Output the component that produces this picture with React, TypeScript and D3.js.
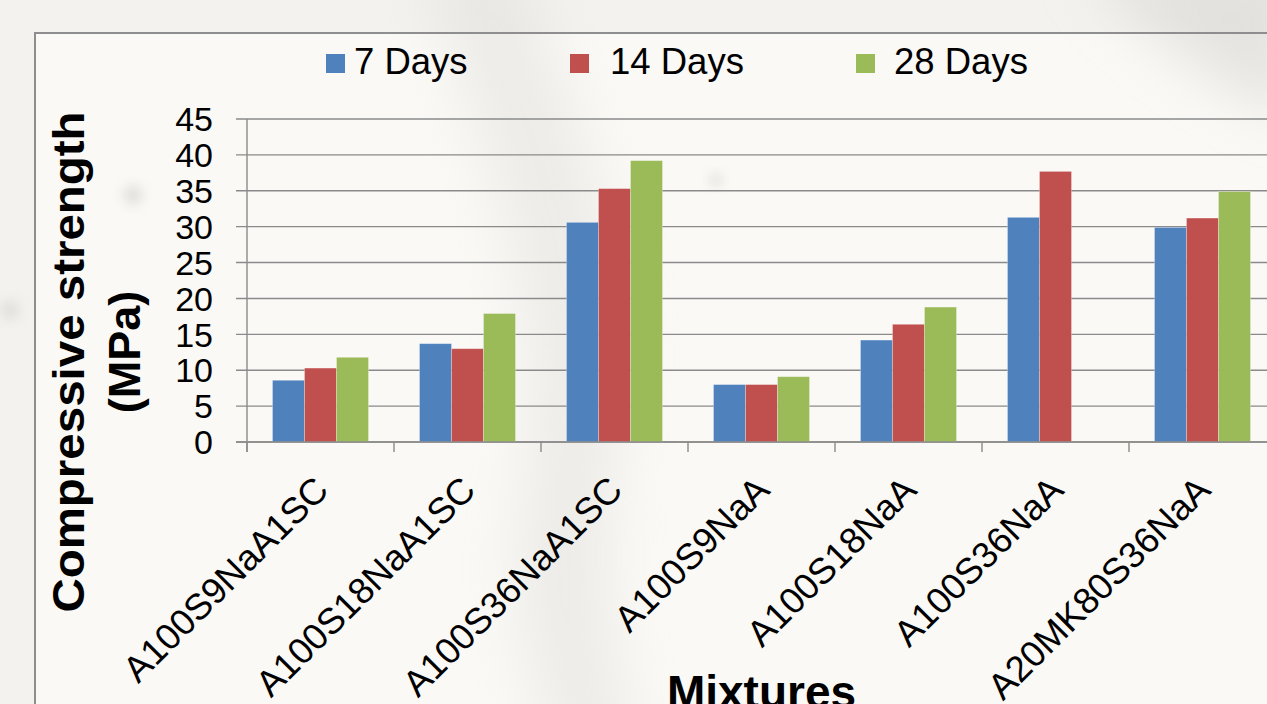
import React from "react"
import * as d3 from "d3"

// mixtures on the x axis
const categories = [
    "A100S9NaA1SC",
    "A100S18NaA1SC",
    "A100S36NaA1SC",
    "A100S9NaA",
    "A100S18NaA",
    "A100S36NaA",
    "A20MK80S36NaA",
]

// compressive strength (MPa)
const days7 = [8.6, 13.7, 30.6, 8.0, 14.2, 31.3, 29.9]
const days14 = [10.3, 13.0, 35.3, 8.0, 16.4, 37.7, 31.2]
const days28 = [11.8, 17.9, 39.2, 9.1, 18.8, 0, 34.9]

const seriesNames = ["7 Days", "14 Days", "28 Days"]
const seriesColors = ["#4F81BD", "#C0504D", "#9BBB59"]
const yTicks = [0, 5, 10, 15, 20, 25, 30, 35, 40, 45]

const W = 1267
const H = 704
const font = "'Liberation Sans', Arial, sans-serif"

const App = () => {
    const series = [days7, days14, days28]

    const x = d3.scaleBand()
        .domain(categories)
        .range([247, 247 + 147 * categories.length])
        .padding(0)
    const inner = d3.scaleBand()
        .domain(seriesNames)
        .range([25.5, x.bandwidth() - 25.5])
        .padding(0)
    const y = d3.scaleLinear()
        .domain([0, 45])
        .range([442, 119])

    const x0 = x.range()[0]
    const x1 = x.range()[1]

    // legend layout
    const legendSquares = [326, 570, 856]
    const legendTexts = [354, 610, 894]

    return (
        <svg width={W} height={H} viewBox={`0 0 ${W} ${H}`}
             style={{position: "absolute", left: 0, top: 0, display: "block"}}>
            <defs>
                <filter id="blur" x="-50%" y="-50%" width="200%" height="200%">
                    <feGaussianBlur stdDeviation="28"/>
                </filter>
                <filter id="blurSmall" x="-50%" y="-50%" width="200%" height="200%">
                    <feGaussianBlur stdDeviation="6"/>
                </filter>
            </defs>

            {/* photo-like backdrop */}
            <rect x={0} y={0} width={W} height={H} fill="#f3f2ef"/>
            <rect x={35} y={33} width={W} height={H} fill="#faf9f6"/>
            <path d="M420,-40 C470,120 560,300 520,520 C505,620 540,700 560,760 L640,760 C610,650 600,560 620,430 C650,260 560,90 520,-40 Z"
                  fill="#d9d8d4" opacity={0.4} filter="url(#blur)"/>
            <path d="M1080,-40 L1300,-40 L1300,120 C1220,90 1150,40 1080,-40 Z"
                  fill="#d6d5d1" opacity={0.6} filter="url(#blur)"/>
            <circle cx={133} cy={195} r={10} fill="#c9c8c5" opacity={0.5} filter="url(#blurSmall)"/>
            <circle cx={10} cy={310} r={10} fill="#cfceca" opacity={0.5} filter="url(#blurSmall)"/>
            <circle cx={716} cy={180} r={7} fill="#cfceca" opacity={0.5} filter="url(#blurSmall)"/>

            {/* chart frame */}
            <path d={`M35,${H + 5} L35,33 L${W + 5},33`} fill="none" stroke="#8e8e8e" strokeWidth={2}/>

            {/* gridlines */}
            <g>
                {yTicks.map(t => (
                    <line key={t} x1={236} x2={x1} y1={y(t)} y2={y(t)}
                          stroke="#8a8a8a" strokeWidth={1.4}/>
                ))}
            </g>

            {/* bars */}
            <g>
                {categories.map((c, i) => (
                    <g key={c} transform={`translate(${x(c)},0)`}>
                        {series.map((s, k) => s[i] > 0 ? (
                            <rect key={k}
                                  x={inner(seriesNames[k])}
                                  y={y(s[i])}
                                  width={inner.bandwidth()}
                                  height={y(0) - y(s[i])}
                                  fill={seriesColors[k]}
                                  stroke="rgba(255,255,255,0.35)"
                                  strokeWidth={0.8}/>
                        ) : null)}
                    </g>
                ))}
            </g>

            {/* axes */}
            <line x1={x0} x2={x0} y1={y(45)} y2={452} stroke="#8a8a8a" strokeWidth={1.4}/>
            <line x1={236} x2={x1} y1={y(0)} y2={y(0)} stroke="#8a8a8a" strokeWidth={1.4}/>
            {categories.map(c => (
                <line key={c} x1={x(c)!} x2={x(c)!} y1={y(0)} y2={452}
                      stroke="#8a8a8a" strokeWidth={1.4}/>
            ))}
            <line x1={x1} x2={x1} y1={y(0)} y2={452} stroke="#8a8a8a" strokeWidth={1.4}/>

            {/* y tick labels */}
            <g fontFamily={font} fontSize={34} fill="#000" textAnchor="end">
                {yTicks.map(t => (
                    <text key={t} x={213} y={y(t)} dy="0.36em">{t}</text>
                ))}
            </g>

            {/* x tick labels */}
            <g fontFamily={font} fontSize={36.5} fill="#000" textAnchor="end">
                {categories.map(c => {
                    const cx = x(c)! + x.bandwidth() / 2 + 10
                    return (
                        <text key={c} transform={`translate(${cx},492) rotate(-45)`}>{c}</text>
                    )
                })}
            </g>

            {/* y axis title */}
            <g fontFamily={font} fontWeight="bold" fontSize={45} fill="#000" textAnchor="middle">
                <text transform="translate(84,362) rotate(-90) scale(1.055,1)">Compressive strength</text>
                <text transform="translate(140,352) rotate(-90)">(MPa)</text>
            </g>

            {/* x axis title */}
            <text x={(x0 + x1) / 2} y={708} fontFamily={font} fontWeight="bold" fontSize={46}
                  textAnchor="middle" fill="#000">Mixtures</text>

            {/* legend */}
            <g fontFamily={font} fontSize={36.5} fill="#000">
                {seriesNames.map((n, k) => (
                    <g key={n}>
                        <rect x={legendSquares[k]} y={54} width={19} height={19} fill={seriesColors[k]}/>
                        <text x={legendTexts[k]} y={74}>{n}</text>
                    </g>
                ))}
            </g>
        </svg>
    )
}

export default App
